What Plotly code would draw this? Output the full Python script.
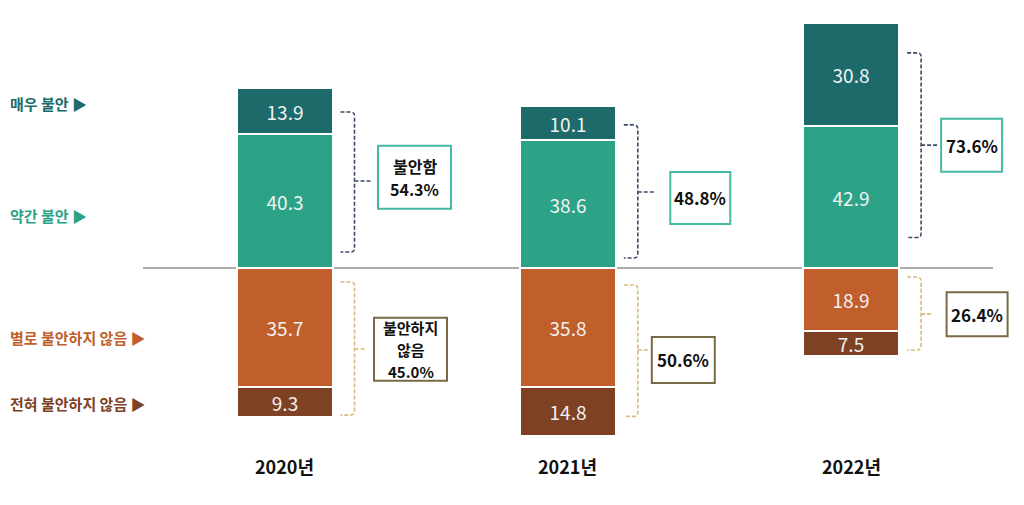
import plotly.graph_objects as go

# ---- data ----
years = ["2020년", "2021년", "2022년"]
very_anxious = [13.9, 10.1, 30.8]          # 매우 불안
somewhat_anxious = [40.3, 38.6, 42.9]      # 약간 불안
not_very_anxious = [35.7, 35.8, 18.9]      # 별로 불안하지 않음
not_at_all_anxious = [9.3, 14.8, 7.5]      # 전혀 불안하지 않음
anxious_total_labels = [["불안함", "54.3%"], ["48.8%"], ["73.6%"]]
not_anxious_total_labels = [["불안하지", "않음", "45.0%"], ["50.6%"], ["26.4%"]]
series_names = ["매우 불안", "약간 불안", "별로 불안하지 않음", "전혀 불안하지 않음"]

# ---- style ----
C_VERY = "#1d6a6a"
C_SOME = "#2ca386"
C_NOTV = "#c05f2c"
C_NOTA = "#7e4124"
FONT = "Noto Sans CJK KR"
W, H = 1024, 505
OFF = 8                  # page body margin
SPACING_PX = 283.3       # pixel distance between bar centres
X0_PX = 284.5 - OFF      # pixel centre of first bar (figure coords)
PX_PER_UNIT = 3.32
BASE_PX = 268 - OFF

def xd(px_off):          # pixel offset -> x data units
    return px_off / SPACING_PX

def yd(px_off):          # pixel offset -> y data units
    return px_off / PX_PER_UNIT

x_idx = list(range(len(years)))
bar_w = xd(96)

fig = go.Figure()
def add_bar(vals, color, name, sign=1):
    fig.add_trace(go.Bar(
        x=x_idx, y=[sign * v for v in vals], name=name, width=bar_w,
        marker=dict(color=color, line=dict(color="white", width=2)),
        text=[f"{v:.1f}" for v in vals], textposition="inside",
        insidetextanchor="middle", textangle=0,
        textfont=dict(family=FONT, size=19, color="#f2f2f2"),
        hoverinfo="skip", showlegend=False, cliponaxis=False))

add_bar(somewhat_anxious, C_SOME, series_names[1])
add_bar(very_anxious, C_VERY, series_names[0])
add_bar(not_very_anxious, C_NOTV, series_names[2], -1)
add_bar(not_at_all_anxious, C_NOTA, series_names[3], -1)

shapes = []
# baseline
shapes.append(dict(type="line", xref="x", yref="y",
                   x0=xd(143 - 284.5), x1=xd(993 - 284.5), y0=0, y1=0,
                   line=dict(color="#ababab", width=2), layer="below"))

# brackets: (top, bottom, mid) in value units
up_br = [(47.0, 4.8, 26.2), (43.1, 3.0, 22.9), (64.8, 9.2, 37.0)]
lo_br = [(-4.2, -44.3, -24.4), (-5.1, -44.7, -24.7), (-2.7, -24.7, -13.9)]

def bracket(i, top, bot, mid, color, tick):
    s = i + xd(56); v = i + xd(70); t = i + xd(tick); r = xd(4)
    path = (f"M {s},{top} L {v - r},{top} Q {v},{top} {v},{top - 1.2} "
            f"L {v},{bot + 1.2} Q {v},{bot} {v - r},{bot} L {s},{bot} "
            f"M {v},{mid} L {t},{mid}")
    return dict(type="path", xref="x", yref="y", path=path,
                line=dict(color=color, width=1.6, dash="4px,2px"))

for i in x_idx:
    shapes.append(bracket(i, *up_br[i], "#3d4b68", 87))
    shapes.append(bracket(i, *lo_br[i], "#d9b97c", 82))

annotations = []
# summary boxes: (x offset px from bar centre, y value, w, h)
up_box = [(130, 27.3, 75, 65), (132.5, 21.1, 62, 54), (120.5, 37.0, 63, 55)]
lo_box = [(126, -24.5, 75, 65), (115.5, -27.7, 65, 48), (126, -13.9, 63, 46)]
# (font size, line spacing px) by number of lines
TXT = {1: (17, 0), 2: (16, 23.5), 3: (15, 22)}
for i in x_idx:
    for (ox, yv, w, h), lines, bc in [(up_box[i], anxious_total_labels[i], "#45b8a3"),
                                      (lo_box[i], not_anxious_total_labels[i], "#7a6a45")]:
        cx = i + xd(ox)
        shapes.append(dict(type="rect", xref="x", yref="y",
                           x0=cx - xd(w / 2 - 1), x1=cx + xd(w / 2 - 1),
                           y0=yv - yd(h / 2 - 1), y1=yv + yd(h / 2 - 1),
                           line=dict(color=bc, width=2), fillcolor="white"))
        n = len(lines)
        fs, sp = TXT[n]
        for k, ln in enumerate(lines):
            ly = yv + yd(sp * ((n - 1) / 2 - k))
            annotations.append(dict(
                x=cx, y=ly, xref="x", yref="y", text=f"<b>{ln}</b>",
                showarrow=False, xanchor="center", yanchor="middle",
                borderpad=0, align="center",
                font=dict(family=FONT, size=fs, color="#111111")))

# year labels
for i in x_idx:
    annotations.append(dict(x=i, y=1 - (466 - OFF) / H, xref="x", yref="paper",
                            text=f"<b>{years[i]}</b>", showarrow=False,
                            xanchor="center", yanchor="middle",
                            font=dict(family=FONT, size=18, color="#111111")))

# left category labels
left = [(series_names[0], 49.4, C_VERY), (series_names[1], 15.7, C_SOME),
        (series_names[2], -20.8, C_NOTV), (series_names[3], -40.7, C_NOTA)]
for name, yv, col in left:
    annotations.append(dict(x=0, y=yv, xref="paper", yref="y",
                            text=f"<b>{name} ▶</b>", showarrow=False,
                            xanchor="left", yanchor="middle",
                            font=dict(family=FONT, size=15, color=col)))

fig.update_layout(
    width=W, height=H, margin=dict(l=0, r=0, t=0, b=0),
    barmode="relative", bargap=0,
    paper_bgcolor="white", plot_bgcolor="white",
    xaxis=dict(range=[xd(-X0_PX), xd(W - X0_PX)], visible=False, fixedrange=True),
    yaxis=dict(range=[-(H - BASE_PX) / PX_PER_UNIT, BASE_PX / PX_PER_UNIT],
               visible=False, fixedrange=True),
    uniformtext=dict(minsize=19, mode="show"),
    shapes=shapes, annotations=annotations,
)

fig.write_html("out.html")
